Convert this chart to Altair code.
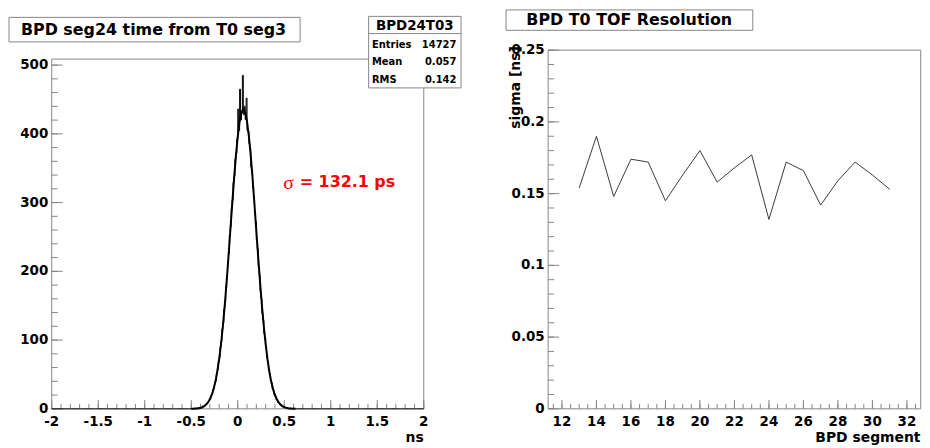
import altair as alt
import numpy as np
import pandas as pd

# ---------------- data ----------------
# Left panel: BPD seg24 time from T0 seg3, histogram with 0.01 ns bins over [-2, 2] ns
HIST_RANGE = [-2.0, 2.0]
HIST_BIN = 0.01
HIST_FIRST_EDGE = -0.50          # left edge of the first listed bin (all bins outside are empty)
HIST_COUNTS = [
    0, 0, 0, 1, 0, 1, 0, 1, 2, 1, 2, 1, 4, 3, 5, 6, 7, 9, 10, 13,
    14, 19, 21, 28, 30, 38, 41, 52, 57, 69, 75, 90, 98, 116, 125, 145, 155, 178, 190, 214,
    226, 253, 265, 291, 303, 329, 339, 363, 372, 392, 436, 405, 465, 420, 430, 485, 428, 440, 421, 452,
    405, 404, 386, 379, 352, 347, 321, 309, 283, 272, 245, 233, 207, 195, 171, 160, 139, 129, 110, 103,
    90, 75, 69, 56, 51, 41, 38, 29, 27, 20, 19, 14, 13, 9, 9, 6, 5, 4, 3, 3,
    2, 2, 1, 1, 1, 0, 1, 0, 0, 0, 1, 0, 0, 0, 0,
]
# Gaussian fit curve, sampled every 0.02 ns from -0.50 to 0.62
FIT_X_START, FIT_X_STEP = -0.50, 0.02
FIT_Y = [
    0.10, 0.18, 0.32, 0.56, 0.94, 1.6, 2.5, 4.0, 6.1, 9.3, 13.8, 20.1, 28.5, 39.6, 54.0,
    72.0, 94.0, 120.1, 150.2, 183.9, 220.4, 258.7, 297.1, 334.0, 367.6, 396.1, 417.8, 431.4,
    436.0,
    431.4, 417.8, 396.1, 367.6, 334.0, 297.1, 258.7, 220.4, 183.9, 150.2, 120.1, 94.0, 72.0,
    54.0, 39.6, 28.5, 20.1, 13.8, 9.3, 6.1, 4.0, 2.5, 1.6, 0.94, 0.56, 0.32, 0.18, 0.10,
]
STATS_NAME = "BPD24T03"
STATS_KEYS = ["Entries", "Mean", "RMS"]
STATS_VALUES = ["14727", "0.057", "0.142"]
LEFT_TITLE = "BPD seg24 time from T0 seg3"
LEFT_XTITLE = "ns"
SIGMA_SYMBOL = "σ"
SIGMA_TEXT = "= 132.1 ps"

# Right panel: BPD T0 TOF resolution per BPD segment
RIGHT_TITLE = "BPD T0 TOF Resolution"
RIGHT_XTITLE = "BPD segment"
RIGHT_YTITLE = "sigma [ns]"
SEGMENTS = [13, 14, 15, 16, 17, 18, 19, 20, 21, 22, 23, 24, 25, 26, 27, 28, 29, 30, 31]
SIGMA_NS = [0.154, 0.190, 0.148, 0.174, 0.172, 0.145, 0.163, 0.180, 0.158, 0.168,
            0.177, 0.132, 0.172, 0.166, 0.142, 0.159, 0.172, 0.163, 0.153]

# axis ticks (major ticks are labelled)
LX_TICKS = [-2, -1.5, -1, -0.5, 0, 0.5, 1, 1.5, 2]
LY_TICKS = [0, 100, 200, 300, 400, 500]
RX_TICKS = [12, 14, 16, 18, 20, 22, 24, 26, 28, 30, 32]
RY_TICKS = [0, 0.05, 0.1, 0.15, 0.2, 0.25]
LX_MINOR = [round(v, 2) for v in np.arange(-2.0, 2.0001, 0.1)]
LY_MINOR = list(range(0, 501, 20))
RX_MINOR = [round(v, 1) for v in np.arange(11.5, 32.51, 0.5)]
RY_MINOR = [round(v, 2) for v in np.arange(0, 0.2501, 0.01)]

# ---------------- tables ----------------
n_left = int(round((HIST_FIRST_EDGE - HIST_RANGE[0]) / HIST_BIN))
n_total = int(round((HIST_RANGE[1] - HIST_RANGE[0]) / HIST_BIN))
counts_full = [0] * n_left + HIST_COUNTS + [0] * (n_total - n_left - len(HIST_COUNTS))
counts_full = counts_full + [counts_full[-1]]
edges = np.round(HIST_RANGE[0] + HIST_BIN * np.arange(n_total + 1), 2)
hist_df = pd.DataFrame({"edge": edges, "count": counts_full})
fit_df = pd.DataFrame({"x": np.round(FIT_X_START + FIT_X_STEP * np.arange(len(FIT_Y)), 2), "y": FIT_Y})
res_df = pd.DataFrame({"segment": SEGMENTS, "sigma": SIGMA_NS})

# ---------------- layout (view pixels) ----------------
W, H = 876, 402
FONT = "DejaVu Sans"
GRAY = "#858585"
L_X0, L_X1, L_Y0 = 0, 374.5, 50
R_X0, R_X1, R_Y0 = 499.7, 874.7, 41
BOT = 402
TICK_FS = 13.5
XTITLE_Y = 435

LX = alt.Scale(domain=[-2, 2], range=[L_X0, L_X1], nice=False, zero=False)
LY = alt.Scale(domain=[0, 508.7], range=[BOT, L_Y0], nice=False, zero=False)
RX = alt.Scale(domain=[11.2, 32.8], range=[R_X0, R_X1], nice=False, zero=False)
RY = alt.Scale(domain=[0, 0.25], range=[BOT, R_Y0], nice=False, zero=False)


def blank():
    return alt.Chart(alt.Data(values=[{"a": 0}]))


def frame(x0, x1, y0, y1):
    return blank().mark_rect(fillOpacity=0, stroke=GRAY, strokeWidth=1).encode(
        x=alt.value(x0), x2=alt.value(x1), y=alt.value(y0), y2=alt.value(y1))


def box(x0, x1, y0, y1):
    return blank().mark_rect(fill="white", stroke=GRAY, strokeWidth=1).encode(
        x=alt.value(x0), x2=alt.value(x1), y=alt.value(y0), y2=alt.value(y1))


def label(text, x, y, size, align="center", color="black", font=FONT, weight="bold",
          baseline="middle", angle=0):
    return blank().mark_text(text=text, font=font, fontSize=size, fontWeight=weight,
                             color=color, align=align, baseline=baseline, angle=angle).encode(
        x=alt.value(x), y=alt.value(y))


def tick_df(values):
    return pd.DataFrame({"v": values, "lab": [f"{v:g}" for v in values]})


def xticks(values, scale, length):
    return alt.Chart(tick_df(values)).mark_rule(color=GRAY, strokeWidth=1).encode(
        x=alt.X("v:Q", scale=scale, axis=None), y=alt.value(BOT), y2=alt.value(BOT - length))


def yticks(values, scale, x0, length):
    return alt.Chart(tick_df(values)).mark_rule(color=GRAY, strokeWidth=1).encode(
        y=alt.Y("v:Q", scale=scale, axis=None), x=alt.value(x0), x2=alt.value(x0 + length))


def xlabels(values, scale):
    return alt.Chart(tick_df(values)).mark_text(
        font=FONT, fontSize=TICK_FS, fontWeight="bold", color="black",
        align="center", baseline="top").encode(
        x=alt.X("v:Q", scale=scale, axis=None), y=alt.value(BOT + 6), text="lab:N")


def ylabels(values, scale, x0):
    return alt.Chart(tick_df(values)).mark_text(
        font=FONT, fontSize=TICK_FS, fontWeight="bold", color="black",
        align="right", baseline="middle").encode(
        y=alt.Y("v:Q", scale=scale, axis=None), x=alt.value(x0 - 3.5), text="lab:N")


# ---------------- left panel ----------------
hist = alt.Chart(hist_df).mark_line(interpolate="step-after", color="black", strokeWidth=1).encode(
    x=alt.X("edge:Q", scale=LX, axis=None), y=alt.Y("count:Q", scale=LY, axis=None))
fit = alt.Chart(fit_df).mark_line(color="black", strokeWidth=2).encode(
    x=alt.X("x:Q", scale=LX, axis=None), y=alt.Y("y:Q", scale=LY, axis=None))

stats_x0, stats_x1, stats_y0, stats_y1 = 319, 412, 7, 79
stats_sep = blank().mark_rule(color=GRAY, strokeWidth=1).encode(
    x=alt.value(stats_x0), x2=alt.value(stats_x1), y=alt.value(24.3))
stats_layers = [box(stats_x0, stats_x1, stats_y0, stats_y1), stats_sep,
                label(STATS_NAME, (stats_x0 + stats_x1) / 2, 16.5, 13.5)]
for i, (k, v) in enumerate(zip(STATS_KEYS, STATS_VALUES)):
    yy = 35.7 + 17.5 * i
    stats_layers.append(label(k, stats_x0 + 3.3, yy, 10, align="left"))
    stats_layers.append(label(v, stats_x1 - 4.7, yy, 10, align="right"))

left = alt.layer(
    frame(L_X0, L_X1, L_Y0, BOT),
    xticks(LX_MINOR, LX, 5),
    xticks(LX_TICKS, LX, 9),
    yticks(LY_MINOR, LY, L_X0, 6),
    yticks(LY_TICKS, LY, L_X0, 11),
    xlabels(LX_TICKS, LX),
    ylabels(LY_TICKS, LY, L_X0),
    hist,
    fit,
    *stats_layers,
    box(-43, 250, 8, 32.7),
    label(LEFT_TITLE, 102.5, 20.3, 16),
    label(LEFT_XTITLE, L_X1, XTITLE_Y, 14, align="right", baseline="alphabetic"),
    label(SIGMA_SYMBOL, 233, 174.5, 20, align="left", color="#ff0000",
          font="Liberation Serif", weight="normal"),
    label(SIGMA_TEXT, 249.7, 173.7, 16, align="left", color="#ff0000"),
)

# ---------------- right panel ----------------
res_line = alt.Chart(res_df).mark_line(color="#3a3a3a", strokeWidth=1).encode(
    x=alt.X("segment:Q", scale=RX, axis=None), y=alt.Y("sigma:Q", scale=RY, axis=None))

right = alt.layer(
    frame(R_X0, R_X1, R_Y0, BOT),
    xticks(RX_MINOR, RX, 5),
    xticks(RX_TICKS, RX, 9),
    yticks(RY_MINOR, RY, R_X0, 6),
    yticks(RY_TICKS, RY, R_X0, 11),
    xlabels(RX_TICKS, RX),
    ylabels(RY_TICKS, RY, R_X0),
    res_line,
    box(457.3, 705.7, 0.5, 21),
    label(RIGHT_TITLE, 581.3, 11, 16),
    label(RIGHT_XTITLE, 874.5, XTITLE_Y, 14, align="right", baseline="alphabetic"),
    label(RIGHT_YTITLE, R_X0 - 28.3, 37, 14, align="right", baseline="alphabetic", angle=270),
)

chart = alt.layer(left, right).resolve_scale(x="independent", y="independent").properties(
    width=W, height=H,
    autosize=alt.AutoSizeParams(type="none"),
    padding={"left": 44, "top": 0, "right": 0, "bottom": 38},
    background="white",
).configure_view(strokeWidth=0)

chart.save("out.html", embed_options={"renderer": "svg", "actions": False})
